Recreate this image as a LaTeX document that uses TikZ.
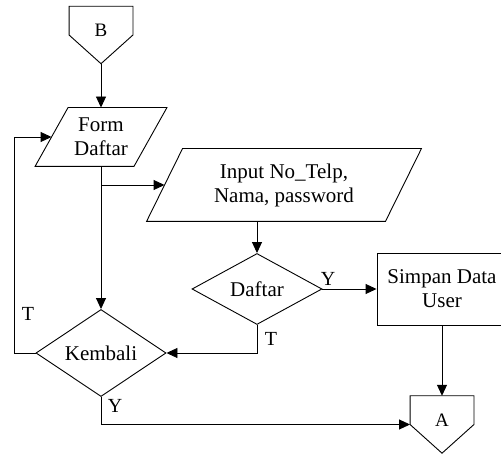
\documentclass[tikz,border=0pt]{standalone}
\usepackage{fontspec}
\setmainfont{Liberation Serif}
\usetikzlibrary{shapes.geometric,arrows.meta}
\begin{document}
\begin{tikzpicture}[x=1pt,y=-1pt,line width=0.9pt,
  txt/.style={font=\fontsize{21}{24}\selectfont, align=center, inner sep=0pt},
  iobox/.style={txt, minimum height=#1},
  dia/.style={txt, shape=diamond, draw, minimum width=130pt, minimum height=71pt},
  proc/.style={txt, draw, minimum width=130pt, minimum height=72pt},
  conn/.style={font=\fontsize{19}{22}\selectfont, minimum width=63pt, minimum height=56.5pt, text height=13pt, text depth=10pt, inner sep=0pt},
  arr/.style={-{Triangle[length=11pt,width=10pt]}},
  lbl/.style={font=\fontsize{20}{24}\selectfont, inner sep=0pt}
]
\fill[white] (0,0) rectangle (501,454);
\useasboundingbox (0,0) rectangle (501,454);

% nodes
\node[conn] (B) at (101,35) {B};
\draw (B.north west) -- (B.north east) -- (B.east) -- (B.south) -- (B.west) -- cycle;

\node[iobox=58pt, minimum width=98pt] (fd) at (101,137) {Form\\Daftar};
\draw ([xshift=16.5pt]fd.north west) -- ([xshift=16.5pt]fd.north east) -- ([xshift=-16.5pt]fd.south east) -- ([xshift=-16.5pt]fd.south west) -- cycle;

\node[iobox=72pt, minimum width=238pt] (inp) at (284,185) {Input No\_Telp,\\Nama, password};
\draw ([xshift=18pt]inp.north west) -- ([xshift=18pt]inp.north east) -- ([xshift=-18pt]inp.south east) -- ([xshift=-18pt]inp.south west) -- cycle;

\node[dia] (daf) at (257,289) {Daftar};
\node[proc] (sim) at (442,289) {Simpan Data\\User};
\node[dia] (kem) at (101,353) {Kembali};

\node[conn] (A) at (442,424.5) {A};
\draw (A.north west) -- (A.north east) -- (A.east) -- (A.south) -- (A.west) -- cycle;

\coordinate (lx) at (14,0);

% connectors
\draw[arr] (B.south) -- (fd.north);
\draw[arr] (fd.south) -- (kem.north);
\draw[arr] (fd.south |- inp.west) -- (inp.west);
\draw[arr] (inp.south -| daf.north) -- (daf.north);
\draw[arr] (daf.east) -- (sim.west);
\draw[arr] (daf.south) -- (daf.south |- kem.east) -- (kem.east);
\draw[arr] (kem.west) -- (lx |- kem.west) -- (lx |- fd.west) -- (fd.west);
\draw[arr] (kem.south) -- (kem.south |- A.west) -- (A.west);
\draw[arr] (sim.south) -- (A.north);

% labels
\node[lbl] (ly1) at (328,279) {Y};
\node[lbl] (lt1) at (271,339) {T};
\node[lbl] (lt2) at (28,314) {T};
\node[lbl] (ly2) at (115,406) {Y};
\end{tikzpicture}
\end{document}
